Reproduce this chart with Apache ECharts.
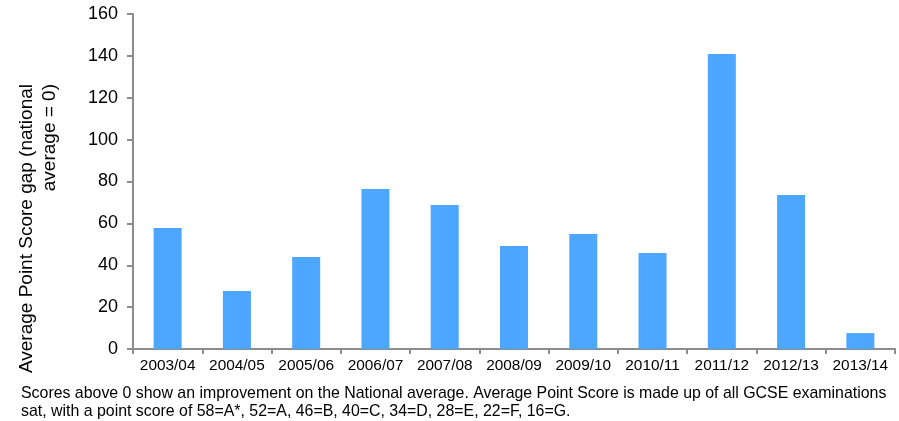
<!DOCTYPE html>
<html><head><meta charset="utf-8">
<script src="https://cdn.jsdelivr.net/npm/echarts@6/dist/echarts.min.js"></script>
<style>html,body{margin:0;padding:0;background:#fff}#c{width:899px;height:421px}</style>
</head><body><div id="c"></div>
<script>
const categories = ['2003/04','2004/05','2005/06','2006/07','2007/08','2008/09','2009/10','2010/11','2011/12','2012/13','2013/14'];
const values = [57.8, 27.7, 43.9, 76.4, 68.8, 49.2, 54.9, 45.8, 140.9, 73.5, 7.6];
const yTicks = [0, 20, 40, 60, 80, 100, 120, 140, 160];
const yTitle = 'Average Point Score gap (national\naverage = 0)';
const footnote = 'Scores above 0 show an improvement on the National average. Average Point Score is made up of all GCSE examinations\nsat, with a point score of 58=A*, 52=A, 46=B, 40=C, 34=D, 28=E, 22=F, 16=G.';
const font = 'Liberation Sans, Arial, Helvetica, sans-serif';
const chart = echarts.init(document.getElementById('c'), null, {renderer:'canvas'});
chart.setOption({
  animation:false,
  grid:{left:133,right:4,top:14,bottom:72,containLabel:false},
  xAxis:{type:'category',data:categories,
    axisLine:{lineStyle:{color:'#8c8c8c',width:2}},
    axisTick:{show:true,length:5,lineStyle:{color:'#8c8c8c',width:2}},
    axisLabel:{color:'#000',fontSize:15.4,fontFamily:font,margin:9,interval:0}},
  yAxis:{type:'value',min:yTicks[0],max:yTicks[yTicks.length-1],interval:20,
    axisLine:{show:true,lineStyle:{color:'#8c8c8c',width:2}},
    axisTick:{show:true,length:6,lineStyle:{color:'#8c8c8c',width:2}},
    splitLine:{show:false},
    axisLabel:{color:'#000',fontSize:18,fontFamily:font,margin:15}},
  series:[{type:'bar',data:values,barWidth:28,itemStyle:{color:'#4da6ff'}}],
  graphic:[
    {type:'text',x:38.5,y:84,rotation:Math.PI/2,style:{text:yTitle,fill:'#000',fontSize:19,fontFamily:font,lineHeight:23,align:'right',verticalAlign:'middle'}},
    {type:'text',left:21,top:384,style:{text:footnote,fill:'#000',fontSize:15.9,fontFamily:font,lineHeight:18.5}}
  ]
});
</script></body></html>
